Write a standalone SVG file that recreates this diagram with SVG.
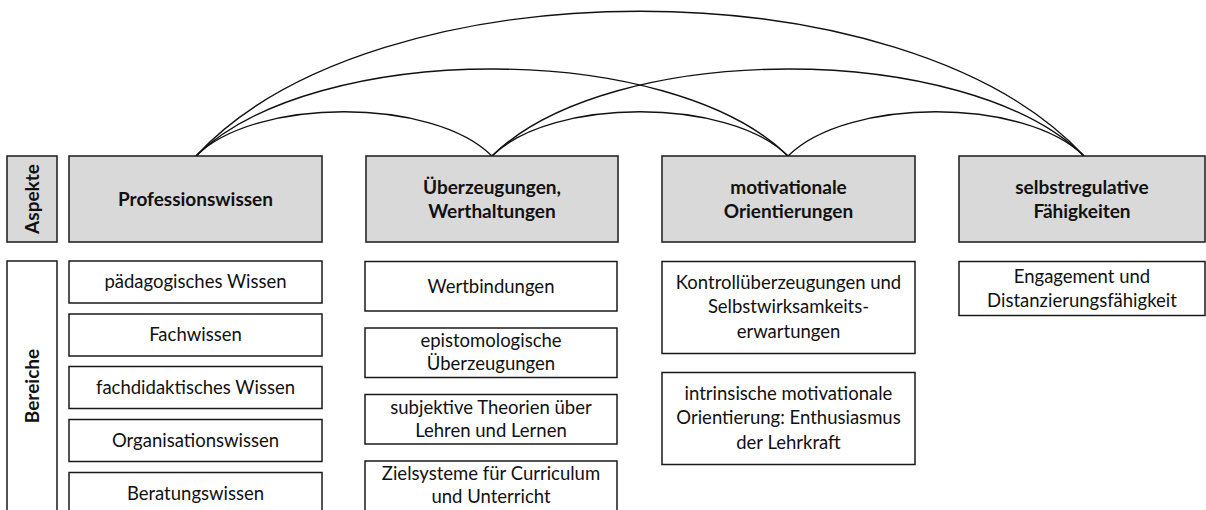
<svg xmlns="http://www.w3.org/2000/svg" width="1206" height="510" viewBox="0 0 1206 510">
  <style>
    .hdr { fill: #d9d9d9; stroke: #1a1a1a; stroke-width: 1.5; }
    .box { fill: #ffffff; stroke: #1a1a1a; stroke-width: 1.5; }
    .b { font-family: Lato, "Liberation Sans", sans-serif; font-weight: bold; font-size: 19px; fill: #111; text-anchor: middle; }
    .t { font-family: Lato, "Liberation Sans", sans-serif; font-size: 18.5px; fill: #111; text-anchor: middle; }
    .arc { fill: none; stroke: #111; stroke-width: 1.4; }
  </style>

  <!-- arcs linking the four aspects -->
  <g id="connectors">
    <path class="arc" d="M196,156 C255,97 433,97 492,156"/>
    <path class="arc" d="M492,156 C551,97 729,97 788,156"/>
    <path class="arc" d="M788,156 C847,97 1025,97 1084,156"/>
    <path class="arc" d="M196,156 C314,40 670,40 788,156"/>
    <path class="arc" d="M492,156 C610,40 966,40 1084,156"/>
    <path class="arc" d="M196,156 C374,-37 906,-37 1084,156"/>
  </g>

  <!-- row labels -->
  <g id="label-aspekte">
    <rect class="hdr" x="7" y="156" width="50" height="86"/>
    <text class="b" transform="translate(38.5,199) rotate(-90)">Aspekte</text>
  </g>
  <g id="label-bereiche">
    <rect class="box" x="7" y="261" width="50" height="254"/>
    <text class="b" transform="translate(38.5,386) rotate(-90)">Bereiche</text>
  </g>

  <!-- aspect headers -->
  <g id="aspect-professionswissen">
    <rect class="hdr" x="69" y="156" width="253" height="86"/>
    <text class="b" x="195.5" y="205.5">Professionswissen</text>
  </g>
  <g id="aspect-ueberzeugungen">
    <rect class="hdr" x="366" y="156" width="252" height="86"/>
    <text class="b" x="492" y="193.5">Überzeugungen,</text>
    <text class="b" x="492" y="217.5">Werthaltungen</text>
  </g>
  <g id="aspect-motivation">
    <rect class="hdr" x="662" y="156" width="253" height="86"/>
    <text class="b" x="788.5" y="193.5">motivationale</text>
    <text class="b" x="788.5" y="217.5">Orientierungen</text>
  </g>
  <g id="aspect-selbstregulation">
    <rect class="hdr" x="959" y="156" width="246" height="86"/>
    <text class="b" x="1082" y="193.5">selbstregulative</text>
    <text class="b" x="1082" y="217.5">Fähigkeiten</text>
  </g>

  <!-- areas: Professionswissen -->
  <g id="area-paedagogisch">
    <rect class="box" x="69" y="261" width="253" height="42"/>
    <text class="t" x="195.5" y="288">pädagogisches Wissen</text>
  </g>
  <g id="area-fachwissen">
    <rect class="box" x="69" y="314" width="253" height="42"/>
    <text class="t" x="195.5" y="341">Fachwissen</text>
  </g>
  <g id="area-fachdidaktik">
    <rect class="box" x="69" y="366.5" width="253" height="42"/>
    <text class="t" x="195.5" y="393.5">fachdidaktisches Wissen</text>
  </g>
  <g id="area-organisation">
    <rect class="box" x="69" y="419.5" width="253" height="42"/>
    <text class="t" x="195.5" y="446.5">Organisationswissen</text>
  </g>
  <g id="area-beratung">
    <rect class="box" x="69" y="472.5" width="253" height="42"/>
    <text class="t" x="195.5" y="499.5">Beratungswissen</text>
  </g>

  <!-- areas: Überzeugungen, Werthaltungen -->
  <g id="area-wertbindungen">
    <rect class="box" x="365" y="261.5" width="252" height="49.5"/>
    <text class="t" x="491" y="292.5">Wertbindungen</text>
  </g>
  <g id="area-epistemologisch">
    <rect class="box" x="365" y="328" width="252" height="49.5"/>
    <text class="t" x="491" y="347">epistomologische</text>
    <text class="t" x="491" y="370">Überzeugungen</text>
  </g>
  <g id="area-subjektiv">
    <rect class="box" x="365" y="394.5" width="252" height="49.5"/>
    <text class="t" x="491" y="413.5">subjektive Theorien über</text>
    <text class="t" x="491" y="436.5">Lehren und Lernen</text>
  </g>
  <g id="area-zielsysteme">
    <rect class="box" x="365" y="461" width="252" height="54"/>
    <text class="t" x="491" y="480">Zielsysteme für Curriculum</text>
    <text class="t" x="491" y="503">und Unterricht</text>
  </g>

  <!-- areas: motivationale Orientierungen -->
  <g id="area-kontroll">
    <rect class="box" x="662" y="261.5" width="253" height="92"/>
    <text class="t" x="788.5" y="288.5">Kontrollüberzeugungen und</text>
    <text class="t" x="788.5" y="313">Selbstwirksamkeits-</text>
    <text class="t" x="788.5" y="337.5">erwartungen</text>
  </g>
  <g id="area-intrinsisch">
    <rect class="box" x="662" y="372.5" width="253" height="92"/>
    <text class="t" x="788.5" y="399.5">intrinsische motivationale</text>
    <text class="t" x="788.5" y="424">Orientierung: Enthusiasmus</text>
    <text class="t" x="788.5" y="448.5">der Lehrkraft</text>
  </g>

  <!-- areas: selbstregulative Fähigkeiten -->
  <g id="area-engagement">
    <rect class="box" x="959" y="261.5" width="246" height="54"/>
    <text class="t" x="1082" y="283">Engagement und</text>
    <text class="t" x="1082" y="307">Distanzierungsfähigkeit</text>
  </g>
</svg>
